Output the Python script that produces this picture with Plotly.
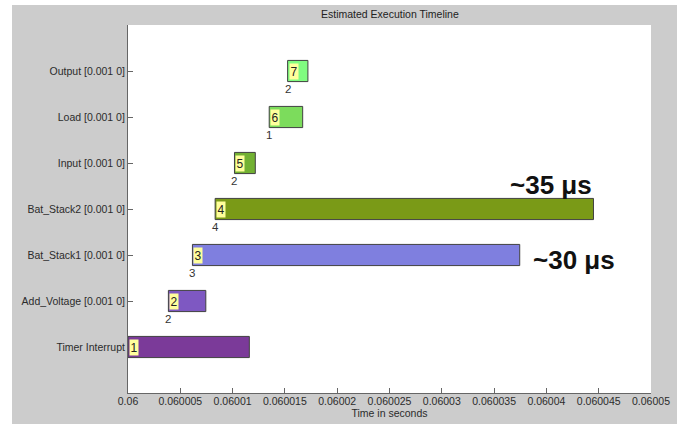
import plotly.graph_objects as go

# ---- data ----
categories = ["Timer Interrupt", "Add_Voltage [0.001 0]", "Bat_Stack1 [0.001 0]",
              "Bat_Stack2 [0.001 0]", "Input [0.001 0]", "Load [0.001 0]", "Output [0.001 0]"]
start_s = [0.0600000, 0.06000386, 0.06000616, 0.06000833, 0.06001018, 0.0600135, 0.06001526]
end_s = [0.0600116, 0.06000744, 0.06003745, 0.0600445, 0.06001217, 0.0600167, 0.0600172]
task_ids = ["1", "2", "3", "4", "5", "6", "7"]
sub_labels = ["", "2", "3", "4", "2", "1", "2"]
colors = ["#7b3a99", "#7e58c2", "#7f7fdf", "#7a9a17", "#72b132", "#7cdc5c", "#80fc80"]
x_tick_vals = [0.06, 0.060005, 0.06001, 0.060015, 0.06002, 0.060025, 0.06003,
               0.060035, 0.06004, 0.060045, 0.06005]
x_tick_text = ["0.06", "0.060005", "0.06001", "0.060015", "0.06002", "0.060025", "0.06003",
               "0.060035", "0.06004", "0.060045", "0.06005"]
callout_text = ["~35 μs", "~30 μs"]
callout_x = [0.0600404, 0.0600426]
callout_y = [4.52, 2.89]

W, H = 685, 426
ML, MR, MT, MB = 128, 34, 25, 33
PW, PH = W - ML - MR, H - MT - MB

ypos = list(range(1, len(categories) + 1))
durations = [e - s for s, e in zip(start_s, end_s)]

fig = go.Figure()
fig.add_trace(go.Bar(
    y=ypos, x=durations, base=start_s, orientation="h", width=0.46,
    marker=dict(color=colors, line=dict(color="#404040", width=1)),
    hoverinfo="skip", showlegend=False,
))

annotations = []
for i, y in enumerate(ypos):
    annotations.append(dict(
        x=start_s[i], y=y, xref="x", yref="y", text=task_ids[i], showarrow=False,
        xanchor="left", yanchor="middle", xshift=1,
        font=dict(family="Liberation Sans, Arial", size=12, color="#222"),
        bgcolor="#ffff9c", width=8, height=15, borderpad=0,
    ))
    if sub_labels[i]:
        annotations.append(dict(
            x=start_s[i], y=y - 0.23, xref="x", yref="y", text=sub_labels[i], showarrow=False,
            xanchor="center", yanchor="top", yshift=1,
            font=dict(family="Liberation Sans, Arial", size=11.5, color="#333"),
        ))
for txt, xv, yv in zip(callout_text, callout_x, callout_y):
    annotations.append(dict(
        x=xv, y=yv, xref="x", yref="y", text="<b>" + txt + "</b>", showarrow=False,
        xanchor="center", yanchor="middle",
        font=dict(family="Liberation Sans, Arial", size=26, color="#111"),
    ))
annotations.append(dict(
    x=0.5, y=1, xref="paper", yref="paper", text="Estimated Execution Timeline",
    showarrow=False, xanchor="center", yanchor="bottom", yshift=3,
    font=dict(family="Liberation Sans, Arial", size=10.5, color="#222"),
))

# white border around the grey figure frame
def px_x(p):
    return (p - ML) / PW

def px_y(p):
    return (H - MB - p) / PH

shapes = []
for x0, y0, x1, y1 in [(0, 0, 12, H), (677, 0, W, H), (0, 0, W, 5), (0, 424, W, H)]:
    shapes.append(dict(type="rect", xref="paper", yref="paper",
                       x0=px_x(x0), x1=px_x(x1), y0=px_y(y1), y1=px_y(y0),
                       fillcolor="white", line=dict(width=0), layer="below"))

fig.update_layout(
    width=W, height=H,
    margin=dict(l=ML, r=MR, t=MT, b=MB, pad=0),
    paper_bgcolor="#cccccc", plot_bgcolor="white",
    annotations=annotations, shapes=shapes,
    font=dict(family="Liberation Sans, Arial", size=10.5, color="#2b2b2b"),
    xaxis=dict(
        range=[0.06, 0.06005], tickvals=x_tick_vals, ticktext=x_tick_text,
        ticks="inside", ticklen=5, tickcolor="#666", showline=True, linecolor="#666",
        linewidth=1, showgrid=False, zeroline=False, automargin=False,
        ticklabelstandoff=-2,
        title=dict(text="Time in seconds", standoff=2, font=dict(size=10.5)),
        fixedrange=True,
    ),
    yaxis=dict(
        range=[0, 8], tickvals=ypos, ticktext=categories,
        ticks="inside", ticklen=5, tickcolor="#666", showline=True, linecolor="#666",
        linewidth=1, showgrid=False, zeroline=False, automargin=False,
        layer="below traces", fixedrange=True,
    ),
)

fig.write_html("out.html")
